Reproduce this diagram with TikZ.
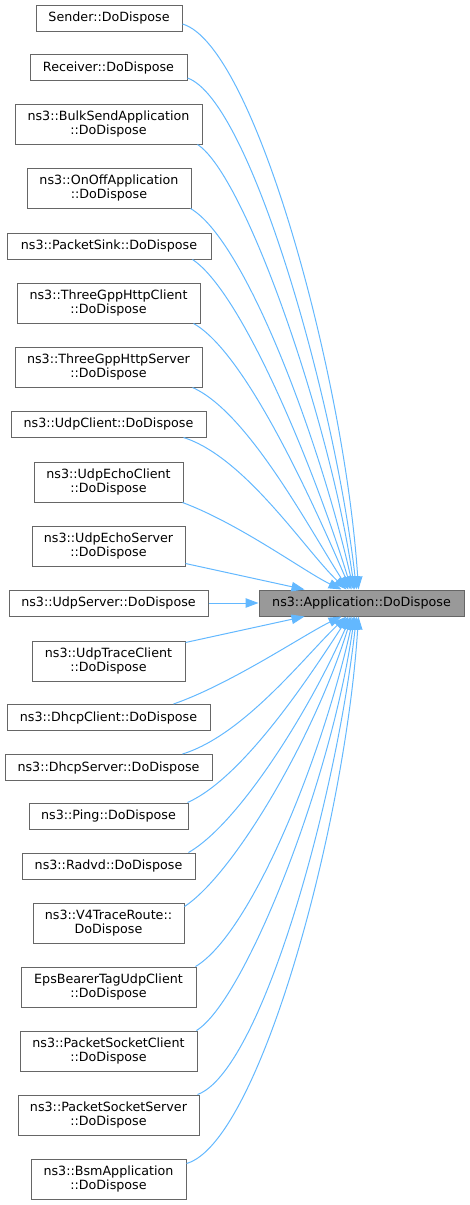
\documentclass[tikz,border=0pt]{standalone}
\usepackage{fontspec}
\setmainfont{DejaVu Sans}
\usetikzlibrary{arrows.meta}
\definecolor{edgec}{HTML}{63B8FF}
\definecolor{boxc}{HTML}{666666}
\definecolor{appfill}{HTML}{999999}
\begin{document}
\begin{tikzpicture}[x=1pt,y=-1pt,
 fnbox/.style={draw=boxc, fill=white, line width=1pt, inner sep=0pt, minimum height=26pt, align=center, font=\fontsize{12.7}{14.5}\selectfont},
 twoline/.style={minimum height=40pt},
 callarrow/.style={draw=edgec, line width=1pt, -{Triangle[length=13pt,width=9.5pt]}}]
\useasboundingbox (0,0) rectangle (469,1205);

\node[fnbox, minimum width=146pt] (n1) at (109,18) {Sender::DoDispose};
\node[fnbox, minimum width=157pt] (n2) at (108.5,67.5) {Receiver::DoDispose};
\node[fnbox, twoline, minimum width=187pt] (n3) at (108.5,124) {ns3::BulkSendApplication\\::DoDispose};
\node[fnbox, twoline, minimum width=164pt] (n4) at (109,188) {ns3::OnOffApplication\\::DoDispose};
\node[fnbox, minimum width=204pt] (n5) at (109,246) {ns3::PacketSink::DoDispose};
\node[fnbox, twoline, minimum width=183pt] (n6) at (108.5,303) {ns3::ThreeGppHttpClient\\::DoDispose};
\node[fnbox, twoline, minimum width=187pt] (n7) at (108.5,367) {ns3::ThreeGppHttpServer\\::DoDispose};
\node[fnbox, minimum width=195pt] (n8) at (108.5,424) {ns3::UdpClient::DoDispose};
\node[fnbox, twoline, minimum width=149pt] (n9) at (108.5,482) {ns3::UdpEchoClient\\::DoDispose};
\node[fnbox, twoline, minimum width=153pt] (n10) at (108.5,546) {ns3::UdpEchoServer\\::DoDispose};
\node[fnbox, minimum width=199pt] (n11) at (108.5,603) {ns3::UdpServer::DoDispose};
\node[fnbox, twoline, minimum width=153pt] (n12) at (108.5,661) {ns3::UdpTraceClient\\::DoDispose};
\node[fnbox, minimum width=203pt] (n13) at (108.5,717.5) {ns3::DhcpClient::DoDispose};
\node[fnbox, minimum width=207pt] (n14) at (108.5,767.5) {ns3::DhcpServer::DoDispose};
\node[fnbox, minimum width=159pt] (n15) at (108.5,816) {ns3::Ping::DoDispose};
\node[fnbox, minimum width=173pt] (n16) at (108.5,866) {ns3::Radvd::DoDispose};
\node[fnbox, twoline, minimum width=151pt] (n17) at (108.5,923) {ns3::V4TraceRoute::\\DoDispose};
\node[fnbox, twoline, minimum width=175pt] (n18) at (108.5,987) {EpsBearerTagUdpClient\\::DoDispose};
\node[fnbox, twoline, minimum width=177pt] (n19) at (108.5,1051) {ns3::PacketSocketClient\\::DoDispose};
\node[fnbox, twoline, minimum width=181pt] (n20) at (108.5,1115) {ns3::PacketSocketServer\\::DoDispose};
\node[fnbox, twoline, minimum width=155pt] (n21) at (108.5,1179) {ns3::BsmApplication\\::DoDispose};

\node[fnbox, fill=appfill, minimum width=205pt] (app) at (361.5,603) {ns3::Application::DoDispose};

% upper edges
\draw[callarrow] ([yshift=-6pt]n1.east) .. controls (255,45) and (345,380) .. ([xshift=100pt]app.north west);
\draw[callarrow] ([yshift=3pt]n2.south east) .. controls (250,100) and (335,400) .. ([xshift=98pt]app.north west);
\draw[callarrow] ([xshift=-5pt]n3.south east) .. controls (245,175) and (330,420) .. ([xshift=96pt]app.north west);
\draw[callarrow] ([xshift=-1pt]n4.south east) .. controls (245,240) and (320,440) .. ([xshift=95pt]app.north west);
\draw[callarrow] ([xshift=-19pt]n5.south east) .. controls (242,292) and (315,470) .. ([xshift=93pt]app.north west);
\draw[callarrow] ([xshift=-7pt]n6.south east) .. controls (245,352) and (312,500) .. ([xshift=92pt]app.north west);
\draw[callarrow] ([xshift=-10pt]n7.south east) .. controls (248,412) and (310,530) .. ([xshift=90pt]app.north west);
\draw[callarrow] ([xshift=-23pt]n8.south east) .. controls (245,457) and (305,550) .. ([xshift=88pt]app.north west);
\draw[callarrow] ([xshift=-1pt]n9.south east) .. controls (240,524) and (305,572) .. ([xshift=83pt]app.north west);
\draw[callarrow] ([yshift=3pt]n10.south east) -- ([xshift=46pt]app.north west);
\draw[callarrow] (n11.east) -- (app.west);
% lower edges
\draw[callarrow] ([yshift=-2pt]n12.north east) -- ([xshift=46pt]app.south west);
\draw[callarrow] ([xshift=-37pt]n13.north east) .. controls (231,684) and (305,634) .. ([xshift=83pt]app.south west);
\draw[callarrow] ([xshift=-30pt]n14.north east) .. controls (244,735) and (305,656) .. ([xshift=88pt]app.south west);
\draw[callarrow] ([xshift=-1pt]n15.north east) .. controls (243,778) and (310,676) .. ([xshift=90pt]app.south west);
\draw[callarrow] ([xshift=-7pt]n16.north east) .. controls (240,823) and (312,706) .. ([xshift=92pt]app.south west);
\draw[callarrow] ([yshift=-4pt]n17.north east) .. controls (234,874) and (315,736) .. ([xshift=93pt]app.south west);
\draw[callarrow] ([xshift=-1pt]n18.north east) .. controls (249,935) and (320,766) .. ([xshift=95pt]app.south west);
\draw[callarrow] ([xshift=-1pt]n19.north east) .. controls (244,1001) and (330,786) .. ([xshift=96pt]app.south west);
\draw[callarrow] ([xshift=-2pt]n20.north east) .. controls (260,1072) and (335,806) .. ([xshift=98pt]app.south west);
\draw[callarrow] ([yshift=-5pt]n21.north east) .. controls (259,1143) and (345,826) .. ([xshift=100pt]app.south west);
\end{tikzpicture}
\end{document}
